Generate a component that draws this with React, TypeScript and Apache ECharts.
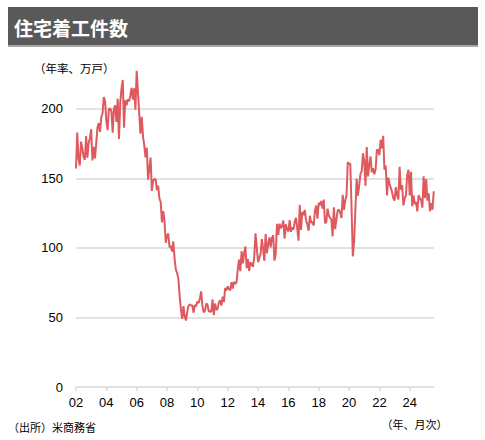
import React, { useEffect, useRef } from "react";
import * as echarts from "echarts";

const titleText = "住宅着工件数";
const yAxisTitle = "（年率、万戸）";
const sourceNote = "（出所）米商務省";
const xAxisNote = "（年、月次）";
const startYear = 2002;
const xMax = 2025.6;
const yMax = 230;

// Monthly housing starts, annualised, 10k units (2002-01 .. 2025-08)
const starts: number[] = [
  // 2002
  157, 182.9, 164.2, 159.2, 176.4, 171.7, 165.5, 163.3, 180.4, 164.8, 175.3, 178.8,
  // 2003
  185.3, 162.9, 172.6, 164.3, 175.1, 186.7, 189.7, 183.3, 193.9, 196.7, 208.3, 205.7,
  // 2004
  191.1, 184.6, 199.8, 200.3, 198.1, 182.8, 200.2, 202.4, 190.5, 207.2, 178.2, 204.2,
  // 2005
  214.4, 220.7, 186.4, 206.1, 202.5, 206.8, 205.4, 209.5, 215.1, 206.5, 214.7, 199.4,
  // 2006
  227.3, 211.9, 196.9, 182.1, 194.2, 180.2, 173.7, 165.0, 172.0, 149.1, 157.0, 164.9,
  // 2007
  140.9, 148.0, 149.5, 149.0, 141.5, 144.8, 135.4, 133.0, 118.3, 126.4, 119.7, 103.7,
  // 2008
  108.4, 110.3, 100.5, 101.3, 97.3, 104.6, 92.3, 84.4, 82.0, 77.7, 65.2, 56.0,
  // 2009
  49.0, 58.2, 50.5, 47.8, 54.0, 58.5, 59.4, 58.6, 58.5, 53.4, 58.8, 58.1,
  // 2010
  61.4, 60.4, 63.6, 68.7, 58.3, 53.6, 54.6, 59.9, 59.4, 54.3, 54.5, 53.9,
  // 2011
  63.0, 51.7, 60.0, 55.4, 56.1, 60.8, 62.3, 58.5, 65.0, 61.0, 71.1, 69.4,
  // 2012
  72.3, 70.4, 69.5, 75.3, 70.8, 75.7, 74.0, 75.4, 84.7, 91.5, 83.3, 97.6,
  // 2013
  88.8, 96.2, 101.0, 85.4, 91.9, 83.5, 89.6, 88.3, 86.3, 93.6, 110.5, 100.3,
  // 2014
  89.7, 92.8, 95.4, 106.3, 99.7, 90.7, 110.0, 96.1, 102.5, 107.6, 100.3, 107.1,
  // 2015
  109.1, 90.8, 95.5, 117.3, 109.3, 117.4, 114.1, 115.7, 119.6, 106.7, 117.0, 113.3,
  // 2016
  111.8, 119.9, 111.4, 114.9, 113.2, 118.6, 121.7, 114.2, 105.1, 131.0, 112.9, 125.8,
  // 2017
  123.6, 127.3, 119.7, 116.9, 112.3, 123.1, 118.2, 118.7, 115.9, 126.5, 130.4, 121.0,
  // 2018
  132.4, 130.7, 133.7, 128.2, 134.7, 117.7, 118.7, 128.2, 123.2, 121.5, 120.3, 108.3,
  // 2019
  129.1, 113.4, 120.3, 127.0, 127.4, 125.2, 121.5, 138.2, 127.4, 134.3, 137.6, 161.7,
  // 2020
  160.3, 160.4, 127.6, 93.8, 104.6, 127.3, 149.7, 137.6, 144.8, 153.2, 155.1, 168.0,
  // 2021
  162.5, 144.7, 172.5, 151.4, 159.4, 165.7, 154.3, 157.3, 153.0, 156.3, 170.3, 170.6,
  // 2022
  166.6, 177.7, 171.6, 180.5, 156.2, 159.1, 137.7, 150.5, 146.3, 143.2, 140.1, 135.7,
  // 2023
  134.0, 143.6, 138.0, 134.8, 158.3, 141.8, 145.1, 130.5, 135.6, 137.6, 152.5, 156.2,
  // 2024
  137.6, 154.6, 129.9, 137.7, 131.5, 132.9, 126.2, 137.9, 135.5, 134.4, 128.9, 151.5,
  // 2025
  135.8, 149.4, 133.9, 139.2, 126.3, 132.1, 127.5, 140.7,
];

const lineColor = "#df5a5f";
const gridColor = "#d9d9d9";
const cjkFont = "'Noto Sans CJK JP', 'Liberation Sans', sans-serif";
const numFont = "'Liberation Sans', Arial, sans-serif";

export default function App() {
  const ref = useRef<HTMLDivElement>(null);

  useEffect(() => {
    if (!ref.current) return;
    const chart = echarts.init(ref.current, undefined, { renderer: "svg" });
    const seriesData = starts.map((v, i) => [startYear + i / 12, v]);

    chart.setOption({
      animation: false,
      backgroundColor: "#ffffff",
      grid: { left: 76, right: 51, top: 67, bottom: 53, containLabel: false },
      xAxis: {
        type: "value",
        min: startYear,
        max: xMax,
        interval: 2,
        axisLine: { show: true, lineStyle: { color: gridColor, width: 1.5 } },
        axisTick: { show: true, length: 4, lineStyle: { color: gridColor, width: 1.5 } },
        splitLine: { show: false },
        axisLabel: {
          margin: 9,
          color: "#000",
          fontSize: 13,
          fontFamily: numFont,
          showMaxLabel: false,
          formatter: (v: number) =>
            Math.abs(v - Math.round(v)) < 1e-6 ? String(Math.round(v) % 100).padStart(2, "0") : "",
        },
      },
      yAxis: {
        type: "value",
        min: 0,
        max: yMax,
        interval: 50,
        axisLine: { show: false },
        axisTick: { show: false },
        splitLine: { show: true, showMaxLine: false, showMinLine: false, lineStyle: { color: gridColor, width: 1.5 } },
        axisLabel: {
          margin: 13,
          color: "#000",
          fontSize: 13,
          fontFamily: numFont,
          showMaxLabel: false,
          formatter: (v: number) => (v % 50 === 0 ? String(v) : ""),
        },
      },
      series: [
        {
          type: "line",
          data: seriesData,
          showSymbol: false,
          symbol: "none",
          clip: false,
          lineStyle: { color: lineColor, width: 2 },
        },
      ],
      graphic: [
        {
          type: "rect",
          shape: { x: 8, y: 7, width: 470, height: 39 },
          style: { fill: "#595959" },
        },
        {
          type: "rect",
          shape: { x: 8, y: 45, width: 470, height: 2 },
          style: { fill: "#a6a6a6" },
        },
        {
          type: "text",
          x: 14,
          y: 27,
          style: {
            text: titleText,
            fill: "#ffffff",
            font: `bold 19px ${cjkFont}`,
            textVerticalAlign: "middle",
          },
        },
        {
          type: "text",
          x: 34,
          y: 68,
          style: { text: yAxisTitle, fill: "#000", font: `11.5px ${cjkFont}`, textVerticalAlign: "middle" },
        },
        {
          type: "text",
          x: 8,
          y: 427,
          style: { text: sourceNote, fill: "#000", font: `11px ${cjkFont}`, textVerticalAlign: "middle" },
        },
        {
          type: "text",
          x: 381.5,
          y: 424,
          style: { text: xAxisNote, fill: "#000", font: `11px ${cjkFont}`, textVerticalAlign: "middle" },
        },
      ],
    });

    return () => chart.dispose();
  }, []);

  return (
    <div
      ref={ref}
      style={{ position: "fixed", left: 0, top: 0, width: 485, height: 440, background: "#fff" }}
    />
  );
}
